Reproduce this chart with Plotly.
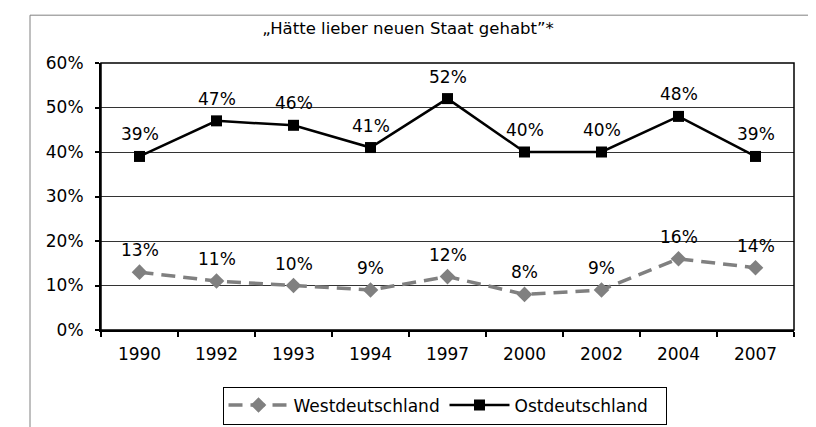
import plotly.graph_objects as go

years = ["1990", "1992", "1993", "1994", "1997", "2000", "2002", "2004", "2007"]
west = [13, 11, 10, 9, 12, 8, 9, 16, 14]
east = [39, 47, 46, 41, 52, 40, 40, 48, 39]
y_ticks = [0, 10, 20, 30, 40, 50, 60]
title_text = "\u201EHätte lieber neuen Staat gehabt\u201D*"

FONT = "DejaVu Sans, Verdana, sans-serif"
W, H = 816, 427
L, R, T, B = 93, 30, 55, 104
pw, ph = W - L - R, H - T - B

fig = go.Figure()
fig.add_trace(go.Scatter(
    x=years, y=west, name="Westdeutschland", mode="lines+markers",
    line=dict(color="#808080", width=3.5, dash="14px,8px"),
    marker=dict(symbol="diamond", size=12, color="#808080"),
))
fig.add_trace(go.Scatter(
    x=years, y=east, name="Ostdeutschland", mode="lines+markers",
    line=dict(color="#000000", width=2.5),
    marker=dict(symbol="square", size=11, color="#000000"),
))

for series in (west, east):
    for i, yv in enumerate(series):
        fig.add_annotation(x=i, y=yv, xref="x", yref="y", text=f"{yv}%", showarrow=False,
                           yshift=22, yanchor="middle",
                           font=dict(family=FONT, size=17, color="#000"))

def px_x(p):
    return (p - L) / pw

def px_y(p):
    return (H - B - p) / ph

fig.add_shape(type="rect", xref="paper", yref="paper",
              x0=px_x(22), x1=px_x(815), y0=px_y(460), y1=px_y(7),
              line=dict(color="#808080", width=1), fillcolor="rgba(0,0,0,0)", layer="below")
fig.add_shape(type="rect", xref="paper", yref="paper",
              x0=0, x1=1, y0=0, y1=1,
              line=dict(color="#000", width=1.5), fillcolor="rgba(0,0,0,0)")

fig.update_layout(
    width=W, height=H,
    margin=dict(l=L, r=R, t=T, b=B),
    paper_bgcolor="white", plot_bgcolor="white",
    font=dict(family=FONT, size=17, color="#000"),
    title=dict(text=title_text, x=400 / W, xanchor="center",
               y=1 - 20 / H, yanchor="middle",
               font=dict(family=FONT, size=16.5, color="#000")),
    showlegend=True,
    legend=dict(orientation="h", x=px_x(436.5), xanchor="center",
                y=px_y(397.5), yanchor="middle",
                bordercolor="#000", borderwidth=1, bgcolor="white",
                font=dict(family=FONT, size=17, color="#000"),
                itemwidth=60, entrywidth=146, entrywidthmode="pixels",
                tracegroupgap=0),
    xaxis=dict(type="category", categoryorder="array", categoryarray=years,
               range=[-0.5, len(years) - 0.5],
               tickson="boundaries", ticks="outside", ticklen=5,
               tickcolor="#000", tickwidth=1.5, showgrid=False, tickangle=0,
               showline=True, linecolor="#000", linewidth=2, mirror=False,
               ticklabelstandoff=8, zeroline=False),
    yaxis=dict(range=[0, 60], tickvals=y_ticks, ticktext=[f"{v}%" for v in y_ticks],
               ticks="outside", ticklen=4, tickcolor="#000", tickwidth=1.5,
               showgrid=True, gridcolor="#333", gridwidth=1,
               showline=True, linecolor="#000", linewidth=2,
               zeroline=False, ticklabelstandoff=8),
)

fig.write_html("out.html")
